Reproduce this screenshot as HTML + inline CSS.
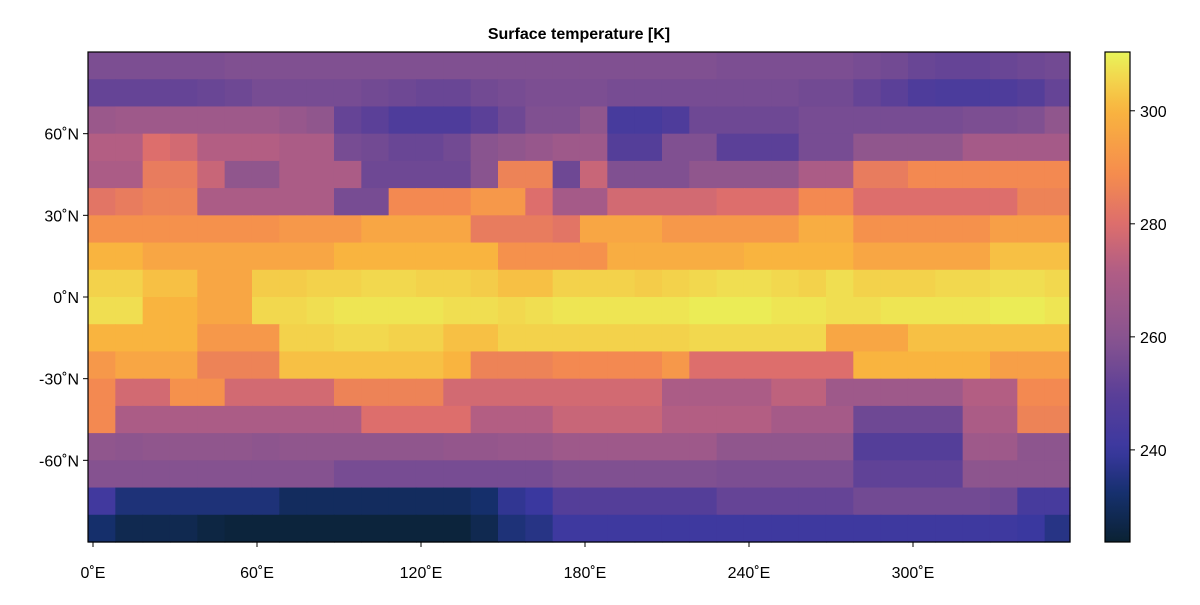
<!DOCTYPE html>
<html><head><meta charset="utf-8"><style>
body{margin:0;background:#fff;font-family:"Liberation Sans",sans-serif}
svg text{font-family:"Liberation Sans",sans-serif}
</style></head><body>
<svg id="chart" width="1200" height="600" xmlns="http://www.w3.org/2000/svg">
<rect width="1200" height="600" fill="#fff"/>
<text x="579" y="39" text-anchor="middle" font-size="16" font-weight="bold">Surface temperature [K]</text>
<g id="cells"></g>
<rect x="88" y="52" width="982" height="490" fill="none" stroke="#000" stroke-width="1.2"/>
<g id="axes"></g>
<defs><linearGradient id="cbg" x1="0" y1="1" x2="0" y2="0"></linearGradient></defs>
<rect x="1105" y="52" width="25" height="490" fill="url(#cbg)" stroke="#000" stroke-width="1.2"/>
<g id="cbaxis"></g>
</svg>
<script>
// lon tick labels (deg E), lat tick labels, colorbar ticks
const lonTicks=[0,60,120,180,240,300];
const latTicks=[60,30,0,-30,-60];
const cbTicks=[240,260,280,300];
const vmin=223.7, vmax=310.4;
// rows from 90N to 90S (10 deg each), 36 columns (10 deg each)
const row0=[257,257,257,257,257,258,258,258,258,258,258,258,258,258,258,258,258,258,258,258,258,258,258,257,257,257,257,257,256,255,253,252,252,253,254,255];
const row1=[252,252,252,252,253,254,256,256,256,256,255,254,253,253,255,256,257,257,257,256,256,256,256,256,256,256,255,255,252,250,246,245,245,246,248,252];
const row2=[265,266,266,266,266,266,266,264,262,252,250,246,246,246,250,254,258,258,262,244,244,246,254,254,254,254,256,256,256,256,256,256,257,257,258,262];
const row3=[272,272,280,278,272,272,272,270,270,256,255,253,253,255,260,262,264,266,266,248,248,258,258,250,250,250,256,256,262,262,262,262,268,268,268,268];
const row4=[270,270,284,284,276,262,262,270,270,270,254,254,254,254,260,286,286,254,276,258,258,258,262,262,262,262,270,270,284,284,288,288,288,288,288,288];
const row5=[282,284,286,286,270,270,270,270,270,256,256,288,288,288,292,292,280,268,268,278,278,278,278,280,280,280,288,288,280,280,280,280,280,280,286,286];
const row6=[290,290,290,290,290,290,290,292,292,292,296,296,296,296,284,284,284,282,296,296,296,292,292,292,292,292,298,298,290,290,290,290,290,294,294,294];
const row7=[300,300,296,296,296,296,296,296,296,300,300,300,300,300,300,290,290,290,290,298,298,298,298,298,300,300,300,300,296,296,296,296,296,302,302,302];
const row8=[305,305,302,302,296,296,304,304,305,305,306,306,305,305,304,302,302,305,305,305,304,305,306,307,307,306,305,307,305,305,305,306,306,307,307,306];
const row9=[307,307,300,300,296,296,306,306,307,308,308,308,308,307,307,306,307,308,308,308,308,308,309,309,309,308,308,307,307,308,308,308,308,309,309,308];
const row10=[300,300,300,300,292,292,292,305,305,306,306,305,305,302,302,305,305,305,305,305,305,305,306,306,306,306,306,296,296,296,302,302,302,302,302,302];
const row11=[292,296,296,296,286,286,286,302,302,302,302,302,302,300,286,286,286,288,288,288,288,292,280,280,280,280,280,280,300,300,300,300,300,294,294,294];
const row12=[288,278,278,290,290,278,278,278,278,286,286,286,286,278,278,278,278,278,278,278,278,270,270,270,270,274,274,266,266,266,266,266,272,272,288,288];
const row13=[288,270,270,270,270,270,270,270,270,270,280,280,280,280,272,272,272,276,276,276,276,272,272,272,272,268,268,268,254,254,254,254,270,270,286,286];
const row14=[262,261,262,262,262,262,261,262,262,262,262,262,262,263,263,264,264,266,266,266,266,266,266,262,262,262,262,262,248,248,248,248,266,266,261,261];
const row15=[259,259,259,259,259,259,259,259,259,256,256,256,256,256,256,256,256,258,258,258,258,258,258,257,257,257,257,257,251,251,251,251,261,261,261,261];
const row16=[242,234,234,234,234,234,234,230,230,230,230,230,230,230,232,238,240,248,248,248,248,248,248,252,252,252,252,252,255,255,255,255,255,254,244,244];
const row17=[232,228,228,228,226,225,225,225,225,225,225,225,225,225,228,234,236,241,241,241,241,241,241,241,241,241,241,241,241,241,241,241,241,241,240,236];
const temps=[row0,row1,row2,row3,row4,row5,row6,row7,row8,row9,row10,row11,row12,row13,row14,row15,row16,row17];

const stops=[[0,"#0a2233"],[0.1,"#16306e"],[0.19,"#3b38a0"],[0.3,"#5a3f98"],[0.42,"#8a548f"],[0.55,"#b05d85"],[0.65,"#dd6e6c"],[0.75,"#f58c4e"],[0.88,"#f9b43f"],[0.95,"#f2d84e"],[1,"#e8f55a"]];
function hex(h){return [1,3,5].map(i=>parseInt(h.substr(i,2),16));}
function cmap(v){let t=Math.max(0,Math.min(1,(v-vmin)/(vmax-vmin)));
 for(let i=1;i<stops.length;i++){if(t<=stops[i][0]){const a=stops[i-1],b=stops[i];const f=(t-a[0])/(b[0]-a[0]);const A=hex(a[1]),B=hex(b[1]);return "rgb("+A.map((x,k)=>Math.round(x+(B[k]-x)*f)).join(",")+")";}}
 return stops[stops.length-1][1];}
const px=lon=>93+lon*2.7333;
const py=lat=>297-lat*2.7222;
const cy=v=>542-(v-vmin)/(vmax-vmin)*490;
const NS="http://www.w3.org/2000/svg";
function mk(tag,attrs,parent){const e=document.createElementNS(NS,tag);for(const k in attrs)e.setAttribute(k,attrs[k]);parent.appendChild(e);return e;}
const cells=document.getElementById('cells');
temps.forEach((row,r)=>{row.forEach((v,c)=>{
 const x0=Math.max(88,px(-1.83+10*c)),x1=Math.min(1070,px(8.17+10*c));
 const y0=py(90-10*r),y1=py(80-10*r);
 const e=mk('rect',{x:x0,y:y0,width:x1-x0+0.6,height:y1-y0+0.6,fill:cmap(v)},cells);
 
 
});});
const ax=document.getElementById('axes');
lonTicks.forEach(l=>{
 mk('line',{x1:px(l),x2:px(l),y1:542,y2:547,stroke:'#000'},ax);
 const t=mk('text',{x:px(l),y:578,'text-anchor':'middle','font-size':16},ax);t.textContent=l+'˚E';
 
 
});
latTicks.forEach(l=>{
 mk('line',{x1:83,x2:88,y1:py(l),y2:py(l),stroke:'#000'},ax);
 const t=mk('text',{x:79,y:py(l)+6,'text-anchor':'end','font-size':16},ax);t.textContent=l+'˚N';
 
 
});
const g=document.getElementById('cbg');
for(let i=0;i<=40;i++){const v=vmin+(vmax-vmin)*i/40;mk('stop',{offset:(i/40),'stop-color':cmap(v)},g);}
const cb=document.getElementById('cbaxis');
cbTicks.forEach(v=>{
 mk('line',{x1:1130,x2:1135,y1:cy(v),y2:cy(v),stroke:'#000'},cb);
 const t=mk('text',{x:1140,y:cy(v)+6,'font-size':16},cb);t.textContent=v;
 
 
});
</script>
</body></html>
